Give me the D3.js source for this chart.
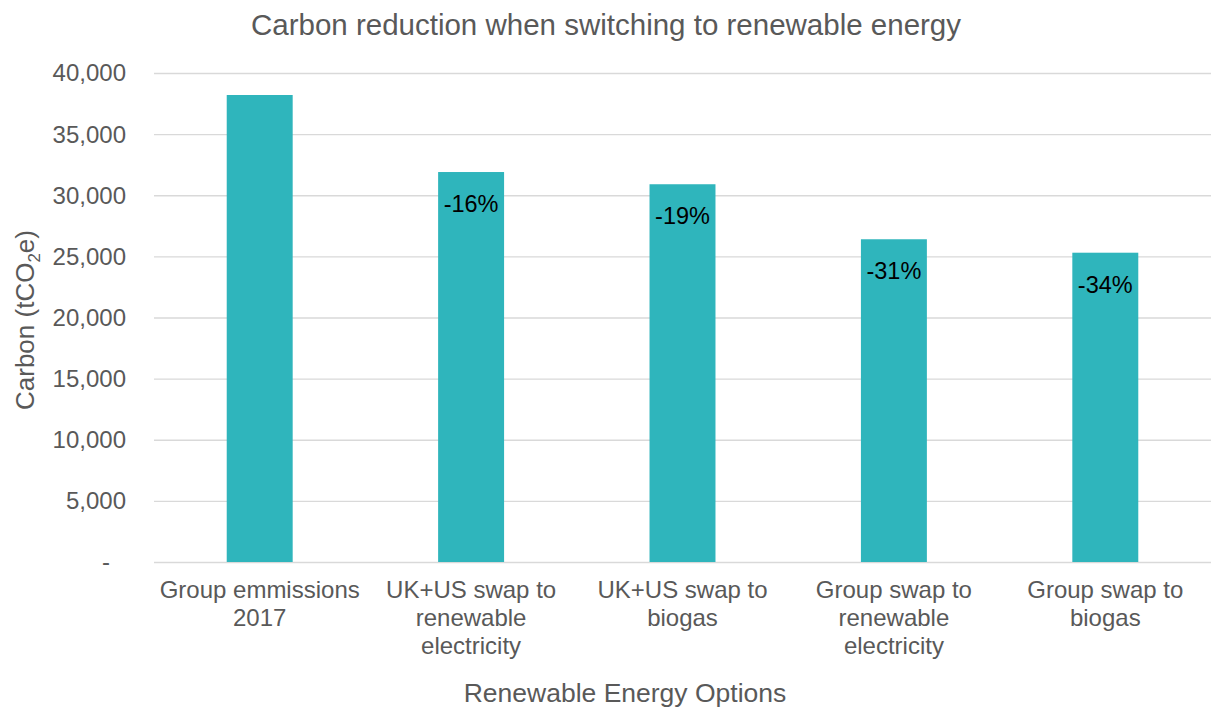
<!DOCTYPE html>
<meta charset="utf-8">
<style>
body { margin: 0; background: #fff; }
text { font-family: "Liberation Sans", Arial, sans-serif; }
.grid line { stroke: #d9d9d9; stroke-width: 1.3px; }
.grid path { display: none; }
.bar { fill: #2fb5bc; }
</style>
<body>
<script src="https://d3js.org/d3.v7.min.js"></script>
<script>

// chart data
var categories = [
  ["Group emmissions", "2017"],
  ["UK+US swap to", "renewable", "electricity"],
  ["UK+US swap to", "biogas"],
  ["Group swap to", "renewable", "electricity"],
  ["Group swap to", "biogas"]
];
var carbon = [38200, 31900, 30900, 26400, 25300];
var reduction = ["", "-16%", "-19%", "-31%", "-34%"];
var yTicks = [0, 5000, 10000, 15000, 20000, 25000, 30000, 35000, 40000];

var width = 1211, height = 707;
var margin = {top: 73, right: 0, bottom: 145, left: 154};
var w = width - margin.left - margin.right,
    h = height - margin.top - margin.bottom;

var svg = d3.select("body").append("svg")
    .attr("width", width)
    .attr("height", height);

var g = svg.append("g")
    .attr("transform", "translate(" + margin.left + "," + margin.top + ")");

var x = d3.scaleBand()
    .domain(d3.range(categories.length))
    .range([0, w])
    .paddingInner(0.688)
    .paddingOuter(0.344);

var y = d3.scaleLinear().domain([0, 40000]).range([h, 0]);

// gridlines
g.append("g")
    .attr("class", "grid")
    .call(d3.axisLeft(y).tickValues(yTicks).tickSize(-w).tickFormat(""));

// y tick labels
var fmt = d3.format(",");
g.selectAll(".ylab")
    .data(yTicks)
  .enter().append("text")
    .attr("x", function(d) { return d === 0 ? -44 : -28; })
    .attr("y", function(d) { return y(d); })
    .attr("dy", "0.35em")
    .attr("text-anchor", "end")
    .style("font-size", "24px")
    .style("fill", "#595959")
    .text(function(d) { return d === 0 ? "-" : fmt(d); });

// bars
g.selectAll(".bar")
    .data(carbon)
  .enter().append("rect")
    .attr("class", "bar")
    .attr("x", function(d, i) { return x(i); })
    .attr("width", x.bandwidth())
    .attr("y", function(d) { return y(d); })
    .attr("height", function(d) { return h - y(d); });

// data labels
g.selectAll(".dlab")
    .data(carbon)
  .enter().append("text")
    .attr("x", function(d, i) { return x(i) + x.bandwidth() / 2; })
    .attr("y", function(d) { return y(d) + 40; })
    .attr("text-anchor", "middle")
    .style("font-size", "23.5px")
    .style("fill", "#000")
    .text(function(d, i) { return reduction[i]; });

// category labels
var cat = g.selectAll(".xlab")
    .data(categories)
  .enter().append("text")
    .attr("text-anchor", "middle")
    .style("font-size", "24px")
    .style("fill", "#595959")
    .attr("transform", function(d, i) {
      return "translate(" + (x(i) + x.bandwidth() / 2) + "," + (h + 36) + ")";
    });
cat.selectAll("tspan")
    .data(function(d) { return d; })
  .enter().append("tspan")
    .attr("x", 0)
    .attr("y", function(d, j) { return j * 28; })
    .text(function(d) { return d; });

// title
svg.append("text")
    .attr("x", 606)
    .attr("y", 35)
    .attr("text-anchor", "middle")
    .style("font-size", "29.5px")
    .style("fill", "#595959")
    .text("Carbon reduction when switching to renewable energy");

// x axis title
svg.append("text")
    .attr("x", 625)
    .attr("y", 702)
    .attr("text-anchor", "middle")
    .style("font-size", "26.5px")
    .style("fill", "#595959")
    .text("Renewable Energy Options");

// y axis title
var yt = svg.append("text")
    .attr("transform", "translate(34,320) rotate(-90)")
    .attr("text-anchor", "middle")
    .style("font-size", "26px")
    .style("fill", "#595959");
yt.append("tspan").text("Carbon (tCO");
yt.append("tspan").attr("dy", 6).style("font-size", "17px").text("2");
yt.append("tspan").attr("dy", -6).text("e)");

</script>
</body>
